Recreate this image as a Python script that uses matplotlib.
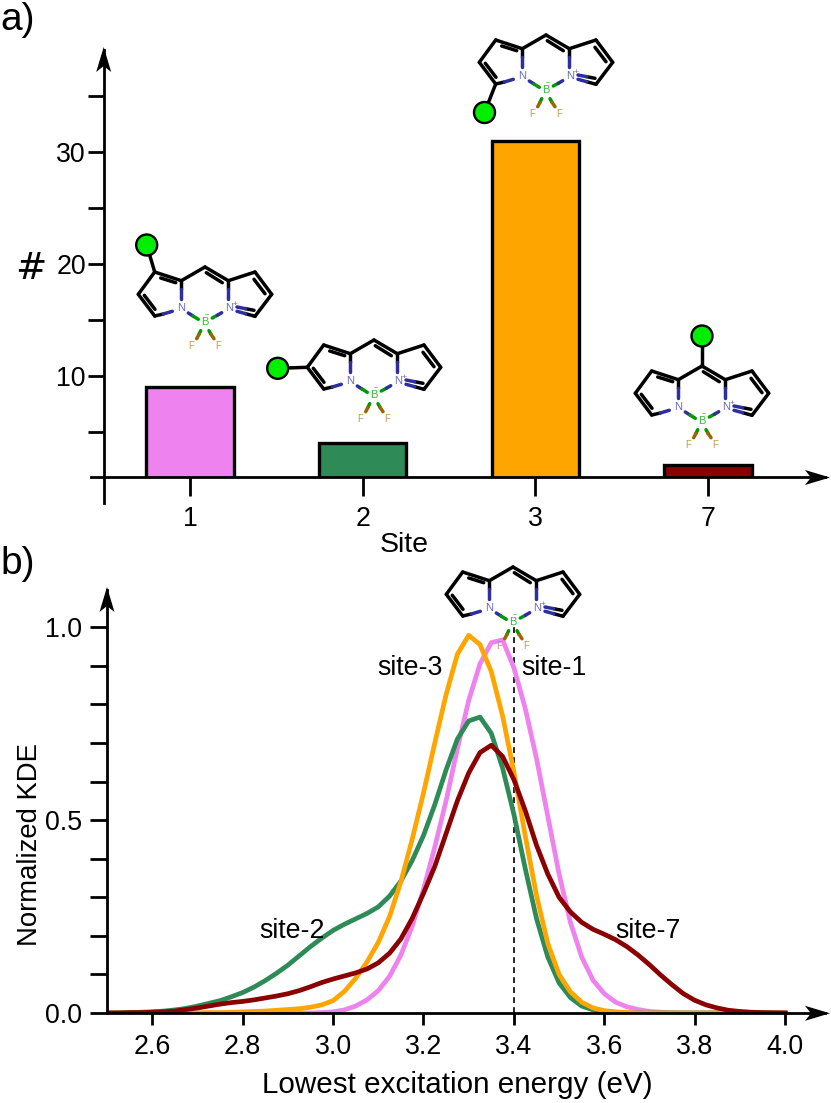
import numpy as np
import matplotlib
matplotlib.use("Agg")
import matplotlib.pyplot as plt
from matplotlib.patches import Circle, Polygon

plt.rcParams["font.family"] = ["Liberation Sans", "DejaVu Sans"]

W, H = 831, 1103
FONT = 19.3

# panel a data
sites = ["1", "2", "3", "7"]
counts = [9, 4, 31, 2]
bar_colors = ["violet", "seagreen", "orange", "darkred"]

# panel b data, every 0.025 eV from 2.5 to 4.0
energy = [2.5 + 0.025 * i for i in range(61)]
kde_site1 = [0, 0, 0, 0, 0, 0, 0, 0, 0, 0, 0, 0, 0, 0, 0, 0, 0, 0, 0,
             0.001, 0.003, 0.008, 0.018, 0.034, 0.058, 0.095, 0.15, 0.225,
             0.32, 0.43, 0.55, 0.685, 0.81, 0.905, 0.96, 0.967, 0.895,
             0.79, 0.66, 0.51, 0.36, 0.235, 0.145, 0.085, 0.05, 0.028,
             0.016, 0.009, 0.004, 0.002, 0.001, 0, 0, 0, 0, 0, 0, 0, 0, 0, 0]
kde_site2 = [0, 0.0005, 0.001, 0.002, 0.003, 0.005, 0.008, 0.012, 0.018,
             0.025, 0.032, 0.042, 0.053, 0.067, 0.084, 0.103, 0.124, 0.148,
             0.172, 0.194, 0.214, 0.23, 0.244, 0.258, 0.275, 0.303, 0.342,
             0.395, 0.46, 0.54, 0.63, 0.71, 0.757, 0.767, 0.725, 0.635, 0.515,
             0.375, 0.245, 0.145, 0.078, 0.04, 0.018, 0.008, 0.003, 0.001,
             0, 0, 0, 0, 0, 0, 0, 0, 0, 0, 0, 0, 0, 0, 0]
kde_site3 = [0, 0, 0, 0, 0, 0, 0, 0, 0, 0.001, 0.001, 0.002, 0.003, 0.004,
             0.005, 0.007, 0.009, 0.011, 0.015, 0.021, 0.032, 0.056, 0.09,
             0.132, 0.183, 0.25, 0.34, 0.45, 0.57, 0.70, 0.825, 0.93, 0.979,
             0.955, 0.885, 0.77, 0.625, 0.46, 0.305, 0.18, 0.10, 0.055,
             0.028, 0.013, 0.006, 0.003, 0.001, 0, 0, 0, 0, 0, 0, 0, 0, 0,
             0, 0, 0, 0, 0]
kde_site7 = [0, 0, 0.001, 0.001, 0.002, 0.003, 0.005, 0.009, 0.013, 0.018,
             0.023, 0.027, 0.03, 0.034, 0.039, 0.044, 0.05, 0.058, 0.068,
             0.079, 0.088, 0.096, 0.104, 0.114, 0.13, 0.155, 0.192, 0.245,
             0.31, 0.38, 0.465, 0.55, 0.622, 0.675, 0.694, 0.665, 0.605,
             0.525, 0.435, 0.36, 0.30, 0.262, 0.235, 0.217, 0.204, 0.19, 0.172,
             0.15, 0.125, 0.098, 0.073, 0.05, 0.033, 0.021, 0.013, 0.007,
             0.004, 0.002, 0.001, 0.0005, 0]

# BODIPY sketch, pixels relative to the top methine carbon
BLACK, BLUE, GREEN, BROWN = "black", "#2e2e9e", "#009900", "#996600"
MOL_BONDS = [
    ((0, 0), (23.3, 13.7), BLACK), ((0, 0), (-23.7, 13.7), BLACK),
    ((1.3, 5.7), (17.3, 15.7), BLACK),
    ((-23.7, 13.7), (-50.3, 5), BLACK), ((-44.3, 11), (-29.3, 15.7), BLACK),
    ((-50.3, 5), (-66.7, 27.3), BLACK), ((-66.7, 27.3), (-50.3, 49), BLACK),
    ((-60.7, 28.3), (-50, 42.3), BLACK),
    ((-50.3, 49), (-41.7, 47), BLACK), ((-41.7, 47), (-32.7, 44.3), BLUE),
    ((-23.7, 13.7), (-23.7, 22), BLACK), ((-23.7, 22), (-23.7, 32), BLUE),
    ((23.3, 13.7), (23.3, 22), BLACK), ((23.3, 22), (23.3, 32), BLUE),
    ((23.3, 13.7), (50, 5), BLACK), ((50, 5), (66.7, 27.3), BLACK),
    ((49, 12.3), (60, 26.7), BLACK), ((66.7, 27.3), (50, 49.3), BLACK),
    ((50, 49.3), (40.7, 46.7), BLACK), ((40.7, 46.7), (32, 44.3), BLUE),
    ((49, 43.3), (40.7, 41.7), BLACK), ((40.7, 41.7), (32, 40), BLUE),
    ((-16.7, 46), (-12, 49), BLUE), ((-12, 49), (-6.7, 52.3), GREEN),
    ((7.3, 51), (12.3, 48.3), GREEN), ((12.3, 48.3), (16.7, 45.7), BLUE),
    ((-4.3, 63.7), (-6, 67.3), GREEN), ((-6, 67.3), (-8.3, 71.7), BROWN),
    ((4, 63.7), (6, 67.3), GREEN), ((6, 67.3), (9, 71.7), BROWN),
]
MOL_LABELS = [
    (-24.3, 41, "N", "#6a6ac0", 8), (24.3, 41, "N", "#6a6ac0", 8),
    (30.5, 37.5, "+", "#6a6ac0", 6), (0, 55, "B", "#3cb83c", 8),
    (2, 48.5, "\u2212", "#3cb83c", 5),
    (-13.7, 79.3, "F", "#c09a50", 7), (12.7, 79.3, "F", "#c09a50", 7),
]
# (top carbon, ring atom carrying the group, group centre), all in pixels
MOLECULES = [
    ((205, 267), (-50.3, 5), (146.7, 245)),
    ((374, 340), (-66.7, 27.3), (277.7, 368.3)),
    ((546, 35), (-50.3, 49), (484.5, 112.5)),
    ((702, 366), (0, 0), (702, 336)),
    ((513, 567), None, None),
]


def draw_molecule(ax, top, anchor, group):
    x0, y0 = top
    for p, q, color in MOL_BONDS:
        ax.plot([x0 + p[0], x0 + q[0]], [y0 + p[1], y0 + q[1]], color=color,
                lw=2.5, solid_capstyle="round", zorder=6)
    for dx, dy, text, color, size in MOL_LABELS:
        ax.text(x0 + dx, y0 + dy, text, color=color, fontsize=size,
                ha="center", va="center", zorder=6)
    if group is not None:
        ax.plot([x0 + anchor[0], group[0]], [y0 + anchor[1], group[1]],
                color="black", lw=2.5, zorder=6)
        ax.add_patch(Circle(group, 10.5, fc="#00ee00", ec="black", lw=1.7, zorder=7))


def arrow_head(ax, tip, direction):
    # stealth head, 25 px long and 15 px wide
    dx, dy = direction
    nx, ny = -dy, dx
    x, y = tip
    pts = [(x, y), (x - 25 * dx + 7.5 * nx, y - 25 * dy + 7.5 * ny),
           (x - 19 * dx, y - 19 * dy), (x - 25 * dx - 7.5 * nx, y - 25 * dy - 7.5 * ny)]
    ax.add_patch(Polygon(pts, fc="black", ec="none", zorder=8))


def frame(left, right, top, bottom):
    ax = fig.add_axes([left / W, 1 - bottom / H, (right - left) / W, (bottom - top) / H])
    ax.patch.set_alpha(0)
    for side in ["top", "right"]:
        ax.spines[side].set_visible(False)
    for side in ["left", "bottom"]:
        ax.spines[side].set_linewidth(2.0)
    return ax


fig = plt.figure(figsize=(W / 100, H / 100), dpi=100)

# a) bars
ax_a = frame(104, 825, 50, 477)
ax_a.bar(range(len(sites)), counts, width=0.505, color=bar_colors, edgecolor="black", linewidth=2.4)
ax_a.set_xlim((104 - 190) / 172.7, (825 - 190) / 172.7)
ax_a.set_ylim(0.96, (488 - 50) / 11.19)
ax_a.set_xticks(range(len(sites)), sites)
ax_a.set_yticks([10, 20, 30])
ax_a.set_yticks([5, 15, 25, 35], minor=True)
ax_a.tick_params(axis="y", which="both", length=11.5, width=2.0, pad=1.5, labelsize=FONT)
ax_a.tick_params(axis="x", length=13.5, width=2.0, pad=7.5, labelsize=FONT)
ax_a.set_xlabel("Site", fontsize=20.5)
ax_a.xaxis.set_label_coords((404.5 - 104) / 721, -(552 - 477) / 427)
ax_a.xaxis.label.set_verticalalignment("baseline")

# b) KDE curves
ax_b = frame(107, 825, 590, 1013)
ax_b.plot([3.4, 3.4], [0, 1.0], color="black", lw=1.2, ls=(0, (3.5, 2.5)))
ax_b.plot(energy, kde_site1, color="violet", lw=3.4)
ax_b.plot(energy, kde_site2, color="seagreen", lw=3.4)
ax_b.plot(energy, kde_site3, color="orange", lw=3.4)
ax_b.plot(energy, kde_site7, color="darkred", lw=3.4)
ax_b.set_xlim(2.5, 2.5 + (825 - 107) / 452.1)
ax_b.set_ylim(0, (1013 - 590) / 385.8)
ax_b.set_xticks(np.arange(2.6, 4.01, 0.2))
ax_b.set_yticks([0, 0.5, 1.0])
ax_b.set_yticks([0.1, 0.2, 0.3, 0.4, 0.6, 0.7, 0.8, 0.9], minor=True)
ax_b.tick_params(axis="y", which="both", length=12.2, width=2.0, pad=5.5, labelsize=FONT)
ax_b.tick_params(axis="x", length=8.5, width=2.0, pad=6.5, labelsize=FONT)
ax_b.set_xlabel("Lowest excitation energy (eV)", fontsize=21.3)
ax_b.xaxis.set_label_coords((457 - 107) / 718, -(1093 - 1013) / 423)
ax_b.xaxis.label.set_verticalalignment("baseline")
ax_b.set_ylabel("Normalized KDE", fontsize=19.8)
ax_b.yaxis.set_label_coords(-(107 - 43) / 718, (1013 - 845) / 423)

# overlay in image pixels for the sketches and free labels
over = fig.add_axes([0, 0, 1, 1])
over.set_xlim(0, W)
over.set_ylim(H, 0)
over.axis("off")
over.patch.set_alpha(0)

over.plot([103.7, 103.7], [477, 503], color="black", lw=2.0)
over.plot([91, 104], [477.3, 477.3], color="black", lw=2.0)
arrow_head(over, (103.7, 47), (0, -1))
arrow_head(over, (830, 477.5), (1, 0))
arrow_head(over, (107, 587), (0, -1))
arrow_head(over, (830, 1013.3), (1, 0))

for top, anchor, group in MOLECULES:
    draw_molecule(over, top, anchor, group)

over.text(0, 30, "a)", fontsize=28, va="baseline")
over.text(0, 574, "b)", fontsize=28, va="baseline")
over.text(30.5, 279, "#", fontsize=27, ha="center", va="baseline", family="DejaVu Sans")
over.text(377, 675, "site-3", fontsize=FONT, va="baseline")
over.text(521.7, 675, "site-1", fontsize=FONT, va="baseline")
over.text(259, 938, "site-2", fontsize=FONT, va="baseline")
over.text(615.7, 938, "site-7", fontsize=FONT, va="baseline")

fig.savefig("out.png", dpi=100)
